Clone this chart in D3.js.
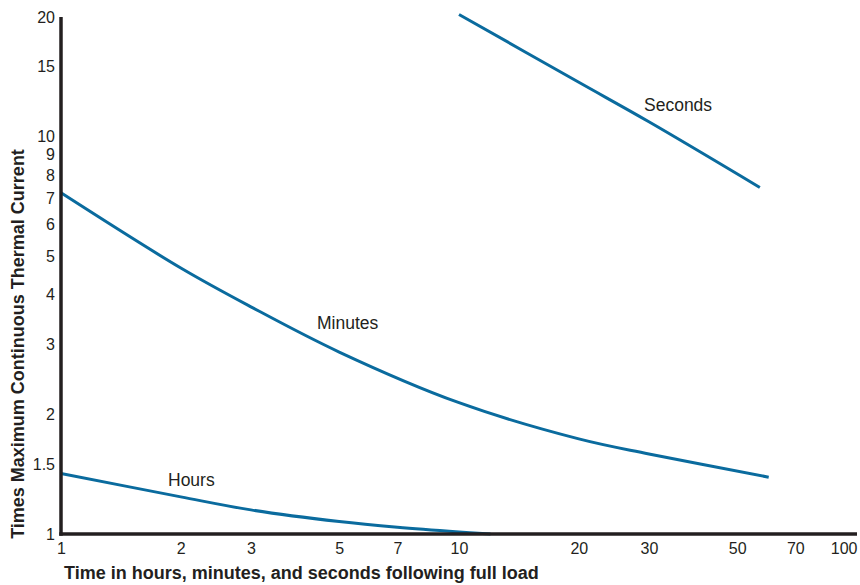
<!DOCTYPE html>
<html>
<head>
<meta charset="utf-8">
<script src="https://cdn.jsdelivr.net/npm/d3@7"></script>
<style>
  html, body { margin: 0; padding: 0; background: #fff; }
  svg { display: block; font-family: "Liberation Sans", Arial, sans-serif; }
</style>
</head>
<body>
<svg id="chart" width="860" height="585"></svg>
<script>
// Tick values
const xTicks = [1, 2, 3, 5, 7, 10, 20, 30, 50, 70, 100];
const yTicks = [1, 1.5, 2, 3, 4, 5, 6, 7, 8, 9, 10, 15, 20];

// Series (x = time, y = times max continuous thermal current)
const hoursX = [1, 2, 3, 5, 7, 10, 12];
const hoursY = [1.42, 1.24, 1.15, 1.075, 1.04, 1.012, 1.0];

const minutesX = [1, 2, 3, 5, 10, 20, 30, 60];
const minutesY = [7.22, 4.67, 3.73, 2.87, 2.14, 1.735, 1.59, 1.39];

const secondsX = [10, 20, 30, 57];
const secondsY = [20.3, 13.7, 10.9, 7.45];

const seriesLabels = ["Hours", "Minutes", "Seconds"];

(function () {
const svg = d3.select("#chart");
const mLeft = 61, mRight = 857, mTop = 17, mBottom = 534;

const x = d3.scaleLog().domain([1, 100]).range([mLeft, mRight]);
const y = d3.scaleLog().domain([1, 20]).range([mBottom, mTop]);

const lineColor = "#0a6b9e";
const axisColor = "#231f20";
const textColor = "#231f20";

// Curves
const line = d3.line().x(d => x(d[0])).y(d => y(d[1])).curve(d3.curveCatmullRom.alpha(0.5));
const series = [
  { name: "Hours", pts: d3.zip(hoursX, hoursY), lx: 168, ly: 486 },
  { name: "Minutes", pts: d3.zip(minutesX, minutesY), lx: 317, ly: 329 },
  { name: "Seconds", pts: d3.zip(secondsX, secondsY), lx: 644, ly: 111 }
];
svg.append("g").selectAll("path").data(series).join("path")
  .attr("d", d => line(d.pts))
  .attr("fill", "none")
  .attr("stroke", lineColor)
  .attr("stroke-width", 3)
  .attr("stroke-linecap", "butt");

svg.append("g").selectAll("text").data(series).join("text")
  .attr("x", d => d.lx).attr("y", d => d.ly)
  .attr("font-size", 17.5)
  .attr("fill", textColor)
  .text((d, i) => seriesLabels[i]);

// Axes (no tick marks)
const xAxis = d3.axisBottom(x).tickValues(xTicks).tickSize(0).tickPadding(9)
  .tickFormat(d3.format("d"));
const gx = svg.append("g").attr("transform", `translate(0,${mBottom})`).call(xAxis);
gx.select(".domain").remove();
gx.selectAll("text").attr("font-size", 16).attr("fill", textColor)
  .attr("font-family", "Liberation Sans, Arial, sans-serif");
gx.selectAll(".tick").filter(d => d === 100).select("text")
  .attr("text-anchor", "end").attr("x", 0);

const yAxis = d3.axisLeft(y).tickValues(yTicks).tickSize(0).tickPadding(6)
  .tickFormat(d => String(d));
const gy = svg.append("g").attr("transform", `translate(${mLeft},0)`).call(yAxis);
gy.select(".domain").remove();
gy.selectAll("text").attr("font-size", 16).attr("fill", textColor)
  .attr("font-family", "Liberation Sans, Arial, sans-serif");

// Axis lines
svg.append("line").attr("x1", mLeft).attr("x2", mLeft).attr("y1", mTop).attr("y2", mBottom + 1.75)
  .attr("stroke", axisColor).attr("stroke-width", 3.5);
svg.append("line").attr("x1", mLeft - 1.75).attr("x2", mRight).attr("y1", mBottom).attr("y2", mBottom)
  .attr("stroke", axisColor).attr("stroke-width", 3.5);

// Axis titles
svg.append("text")
  .attr("x", 64).attr("y", 579)
  .attr("font-size", 18).attr("font-weight", "bold").attr("fill", textColor)
  .text("Time in hours, minutes, and seconds following full load");

svg.append("text")
  .attr("transform", "translate(24,344) rotate(-90)")
  .attr("text-anchor", "middle")
  .attr("font-size", 18).attr("font-weight", "bold").attr("fill", textColor)
  .text("Times Maximum Continuous Thermal Current");
})();
</script>
</body>
</html>
